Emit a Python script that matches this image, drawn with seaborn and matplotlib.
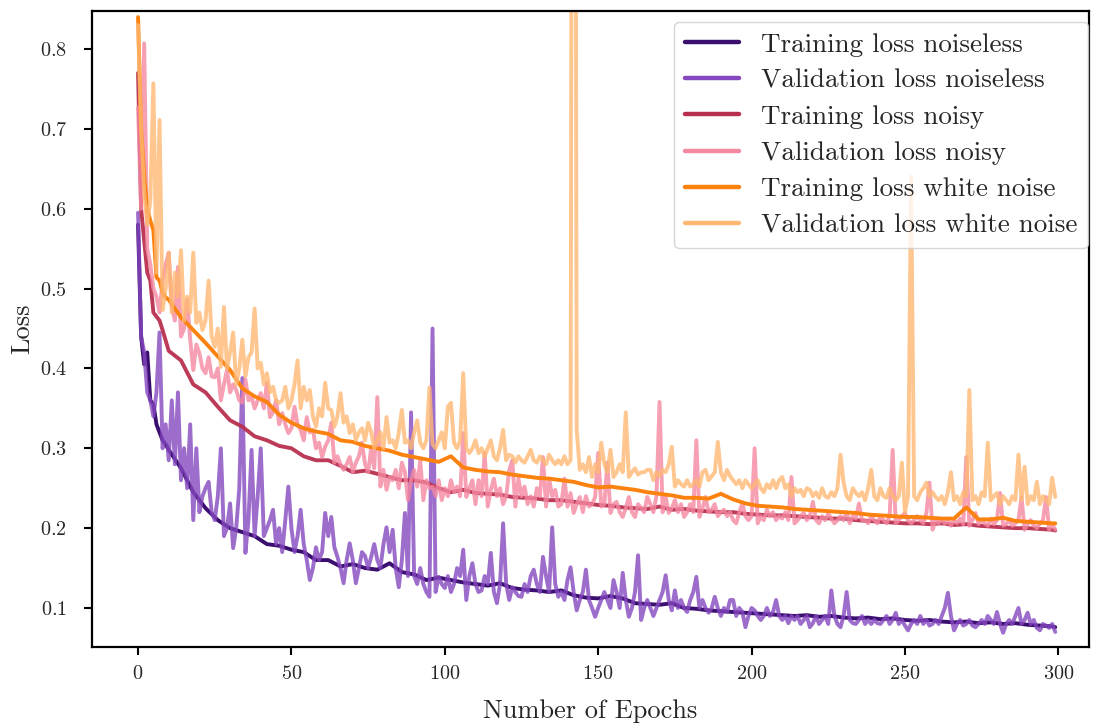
import numpy as np
import pandas as pd
import matplotlib
matplotlib.use("Agg")
import matplotlib.pyplot as plt
import seaborn as sns

# ---------------- data ----------------
TRAIN_EPOCHS = list(range(0, 10)) + list(range(10, 300, 4)) + [299]
VAL_EPOCHS = list(range(0, 300))

train_noiseless = [
    0.58, 0.44, 0.405, 0.42, 0.36, 0.355, 0.33, 0.32, 0.31, 0.305,
    0.298, 0.275, 0.245, 0.225, 0.21, 0.20, 0.195, 0.19, 0.18, 0.178,
    0.173, 0.17, 0.16, 0.16, 0.152, 0.155, 0.15, 0.148, 0.156, 0.145,
    0.142, 0.135, 0.138, 0.135, 0.132, 0.13, 0.128, 0.131, 0.125, 0.123,
    0.122, 0.12, 0.122, 0.116, 0.113, 0.112, 0.115, 0.112, 0.106, 0.105,
    0.104, 0.106, 0.10, 0.099, 0.097, 0.096, 0.095, 0.094, 0.093, 0.092,
    0.091, 0.09, 0.091, 0.089, 0.09, 0.088, 0.087, 0.088, 0.086, 0.087,
    0.085, 0.084, 0.085, 0.083, 0.082, 0.083, 0.081, 0.082, 0.08, 0.081,
    0.079, 0.078, 0.077,
    0.076,
]

train_noisy = [
    0.77, 0.60, 0.56, 0.52, 0.51, 0.47, 0.465, 0.46, 0.448, 0.435,
    0.422, 0.41, 0.38, 0.37, 0.352, 0.335, 0.327, 0.315, 0.31, 0.303,
    0.30, 0.29, 0.285, 0.285, 0.278, 0.27, 0.272, 0.268, 0.264, 0.26,
    0.26, 0.257, 0.25, 0.245, 0.248, 0.244, 0.243, 0.242, 0.239, 0.238,
    0.237, 0.235, 0.235, 0.233, 0.231, 0.229, 0.228, 0.226, 0.225, 0.224,
    0.227, 0.223, 0.224, 0.222, 0.221, 0.22, 0.22, 0.218, 0.217, 0.216,
    0.216, 0.215, 0.214, 0.213, 0.212, 0.212, 0.21, 0.209, 0.208, 0.207,
    0.206, 0.206, 0.205, 0.206, 0.204, 0.205, 0.203, 0.202, 0.201, 0.20,
    0.20, 0.199, 0.198,
    0.197,
]

train_white = [
    0.84, 0.70, 0.64, 0.60, 0.585, 0.573, 0.514, 0.51, 0.495, 0.489,
    0.486, 0.464, 0.448, 0.432, 0.415, 0.398, 0.375, 0.365, 0.358, 0.342,
    0.332, 0.325, 0.321, 0.318, 0.31, 0.308, 0.303, 0.30, 0.297, 0.292,
    0.289, 0.286, 0.283, 0.29, 0.276, 0.273, 0.271, 0.27, 0.267, 0.265,
    0.263, 0.262, 0.26, 0.258, 0.254, 0.251, 0.252, 0.25, 0.248, 0.245,
    0.243, 0.241, 0.238, 0.238, 0.237, 0.243, 0.236, 0.231, 0.228, 0.227,
    0.226, 0.224, 0.223, 0.222, 0.221, 0.22, 0.219, 0.217, 0.216, 0.215,
    0.214, 0.214, 0.213, 0.212, 0.212, 0.226, 0.211, 0.211, 0.213, 0.209,
    0.208, 0.207, 0.206,
    0.206,
]

val_noiseless = [
    0.595, 0.44, 0.42, 0.37, 0.36, 0.34, 0.37, 0.445, 0.30, 0.33,
    0.285, 0.36, 0.28, 0.37, 0.26, 0.30, 0.25, 0.33, 0.21, 0.30,
    0.22, 0.24, 0.25, 0.258, 0.22, 0.21, 0.24, 0.30, 0.19, 0.20,
    0.231, 0.175, 0.20, 0.25, 0.388, 0.169, 0.21, 0.298, 0.19, 0.24,
    0.30, 0.19, 0.20, 0.21, 0.223, 0.18, 0.20, 0.17, 0.21, 0.252,
    0.20, 0.17, 0.19, 0.223, 0.18, 0.16, 0.135, 0.15, 0.176, 0.16,
    0.17, 0.219, 0.19, 0.214, 0.176, 0.164, 0.15, 0.131, 0.16, 0.181,
    0.16, 0.131, 0.15, 0.17, 0.165, 0.15, 0.164, 0.18, 0.16, 0.15,
    0.18, 0.201, 0.17, 0.198, 0.15, 0.126, 0.16, 0.219, 0.14, 0.345,
    0.14, 0.13, 0.15, 0.13, 0.12, 0.114, 0.45, 0.12, 0.139, 0.13,
    0.125, 0.14, 0.12, 0.13, 0.15, 0.14, 0.173, 0.11, 0.14, 0.156,
    0.13, 0.12, 0.122, 0.14, 0.13, 0.169, 0.12, 0.106, 0.13, 0.206,
    0.13, 0.11, 0.126, 0.12, 0.115, 0.114, 0.13, 0.12, 0.14, 0.148,
    0.13, 0.12, 0.164, 0.14, 0.12, 0.201, 0.13, 0.114, 0.12, 0.11,
    0.135, 0.151, 0.12, 0.097, 0.11, 0.12, 0.148, 0.11, 0.10, 0.089,
    0.10, 0.11, 0.12, 0.11, 0.10, 0.135, 0.12, 0.10, 0.144, 0.11,
    0.089, 0.10, 0.12, 0.166, 0.085, 0.10, 0.11, 0.10, 0.09, 0.10,
    0.11, 0.12, 0.141, 0.11, 0.097, 0.122, 0.10, 0.11, 0.10, 0.095,
    0.11, 0.12, 0.139, 0.10, 0.11, 0.10, 0.094, 0.10, 0.114, 0.10,
    0.09, 0.10, 0.095, 0.11, 0.110, 0.09, 0.10, 0.095, 0.076, 0.09,
    0.10, 0.097, 0.09, 0.085, 0.09, 0.10, 0.09, 0.095, 0.11, 0.09,
    0.085, 0.09, 0.081, 0.09, 0.085, 0.09, 0.08, 0.085, 0.09, 0.076,
    0.081, 0.09, 0.08, 0.085, 0.09, 0.08, 0.122, 0.09, 0.08, 0.076,
    0.09, 0.12, 0.085, 0.081, 0.08, 0.085, 0.09, 0.08, 0.085, 0.08,
    0.085, 0.081, 0.08, 0.085, 0.09, 0.08, 0.085, 0.094, 0.08, 0.085,
    0.078, 0.072, 0.08, 0.085, 0.08, 0.09, 0.08, 0.085, 0.078, 0.08,
    0.085, 0.08, 0.09, 0.10, 0.119, 0.09, 0.072, 0.08, 0.085, 0.078,
    0.08, 0.085, 0.078, 0.076, 0.08, 0.085, 0.08, 0.09, 0.085, 0.08,
    0.095, 0.08, 0.069, 0.08, 0.085, 0.08, 0.09, 0.10, 0.08, 0.085,
    0.094, 0.08, 0.085, 0.075, 0.072, 0.08, 0.078, 0.075, 0.08, 0.07,
]

val_noisy = [
    0.727, 0.60, 0.807, 0.55, 0.53, 0.50, 0.49, 0.47, 0.51, 0.53,
    0.545, 0.477, 0.46, 0.527, 0.44, 0.45, 0.486, 0.436, 0.398, 0.43,
    0.419, 0.40, 0.394, 0.414, 0.39, 0.389, 0.40, 0.36, 0.38, 0.398,
    0.37, 0.38, 0.373, 0.36, 0.357, 0.386, 0.36, 0.364, 0.35, 0.36,
    0.369, 0.35, 0.382, 0.339, 0.345, 0.36, 0.33, 0.344, 0.33, 0.319,
    0.325, 0.352, 0.33, 0.323, 0.31, 0.339, 0.32, 0.323, 0.30, 0.307,
    0.289, 0.302, 0.31, 0.332, 0.282, 0.29, 0.28, 0.273, 0.28, 0.289,
    0.27, 0.282, 0.29, 0.307, 0.28, 0.27, 0.30, 0.275, 0.364, 0.252,
    0.273, 0.248, 0.264, 0.26, 0.273, 0.25, 0.282, 0.27, 0.235, 0.26,
    0.273, 0.252, 0.285, 0.235, 0.26, 0.25, 0.252, 0.24, 0.26, 0.235,
    0.25, 0.24, 0.26, 0.245, 0.252, 0.24, 0.319, 0.239, 0.25, 0.26,
    0.23, 0.26, 0.24, 0.294, 0.227, 0.248, 0.262, 0.24, 0.25, 0.23,
    0.24, 0.273, 0.285, 0.227, 0.262, 0.24, 0.252, 0.23, 0.24, 0.227,
    0.25, 0.24, 0.289, 0.227, 0.262, 0.24, 0.248, 0.227, 0.23, 0.262,
    0.227, 0.244, 0.219, 0.23, 0.239, 0.22, 0.24, 0.227, 0.23, 0.239,
    0.294, 0.227, 0.23, 0.282, 0.219, 0.23, 0.233, 0.22, 0.214, 0.225,
    0.239, 0.22, 0.214, 0.23, 0.225, 0.22, 0.239, 0.23, 0.22, 0.24,
    0.358, 0.22, 0.239, 0.219, 0.225, 0.235, 0.22, 0.23, 0.214, 0.22,
    0.23, 0.22, 0.31, 0.214, 0.225, 0.239, 0.22, 0.223, 0.23, 0.215,
    0.22, 0.223, 0.215, 0.22, 0.21, 0.206, 0.22, 0.231, 0.215, 0.21,
    0.215, 0.30, 0.206, 0.215, 0.21, 0.223, 0.215, 0.22, 0.21, 0.215,
    0.212, 0.22, 0.21, 0.264, 0.206, 0.21, 0.215, 0.219, 0.21, 0.215,
    0.233, 0.21, 0.206, 0.215, 0.21, 0.218, 0.212, 0.206, 0.21, 0.215,
    0.21, 0.22, 0.206, 0.215, 0.212, 0.231, 0.21, 0.21, 0.206, 0.215,
    0.21, 0.206, 0.215, 0.21, 0.206, 0.215, 0.298, 0.206, 0.21, 0.215,
    0.219, 0.21, 0.206, 0.21, 0.215, 0.21, 0.206, 0.219, 0.257, 0.198,
    0.21, 0.206, 0.212, 0.205, 0.21, 0.203, 0.21, 0.206, 0.212, 0.205,
    0.289, 0.203, 0.21, 0.219, 0.205, 0.21, 0.206, 0.203, 0.212, 0.205,
    0.21, 0.244, 0.203, 0.205, 0.21, 0.203, 0.206, 0.21, 0.239, 0.198,
    0.205, 0.21, 0.203, 0.20, 0.206, 0.21, 0.239, 0.198, 0.205, 0.198,
]

val_white = [
    0.83, 0.70, 0.62, 0.58, 0.61, 0.757, 0.52, 0.711, 0.473, 0.50,
    0.545, 0.47, 0.52, 0.49, 0.548, 0.46, 0.49, 0.47, 0.545, 0.457,
    0.47, 0.448, 0.46, 0.51, 0.44, 0.427, 0.45, 0.402, 0.477, 0.40,
    0.42, 0.445, 0.38, 0.40, 0.436, 0.39, 0.414, 0.42, 0.475, 0.40,
    0.407, 0.38, 0.394, 0.37, 0.377, 0.36, 0.357, 0.36, 0.377, 0.35,
    0.36, 0.38, 0.41, 0.35, 0.377, 0.36, 0.373, 0.34, 0.327, 0.35,
    0.34, 0.382, 0.35, 0.348, 0.327, 0.34, 0.369, 0.332, 0.34, 0.319,
    0.33, 0.31, 0.32, 0.325, 0.31, 0.332, 0.32, 0.30, 0.31, 0.32,
    0.30, 0.339, 0.307, 0.31, 0.30, 0.32, 0.348, 0.307, 0.31, 0.30,
    0.32, 0.335, 0.307, 0.30, 0.31, 0.376, 0.305, 0.30, 0.31, 0.32,
    0.30, 0.352, 0.357, 0.307, 0.30, 0.31, 0.394, 0.30, 0.294, 0.30,
    0.31, 0.294, 0.30, 0.29, 0.30, 0.31, 0.29, 0.285, 0.30, 0.323,
    0.285, 0.292, 0.29, 0.282, 0.29, 0.285, 0.282, 0.29, 0.298, 0.285,
    0.282, 0.29, 0.285, 0.28, 0.292, 0.285, 0.28, 0.285, 0.28, 0.29,
    0.28, 0.285, 2.5, 0.323, 0.273, 0.28, 0.27, 0.289, 0.264, 0.28,
    0.27, 0.307, 0.28, 0.27, 0.298, 0.264, 0.27, 0.28, 0.27, 0.345,
    0.264, 0.27, 0.275, 0.267, 0.27, 0.27, 0.273, 0.273, 0.26, 0.27,
    0.265, 0.273, 0.27, 0.28, 0.302, 0.252, 0.26, 0.255, 0.252, 0.26,
    0.252, 0.255, 0.26, 0.252, 0.27, 0.273, 0.26, 0.265, 0.27, 0.308,
    0.27, 0.26, 0.273, 0.265, 0.26, 0.255, 0.26, 0.25, 0.26, 0.255,
    0.25, 0.255, 0.26, 0.25, 0.245, 0.255, 0.25, 0.26, 0.25, 0.26,
    0.264, 0.25, 0.255, 0.24, 0.25, 0.245, 0.248, 0.24, 0.25, 0.248,
    0.24, 0.245, 0.238, 0.25, 0.24, 0.238, 0.245, 0.24, 0.25, 0.292,
    0.257, 0.24, 0.235, 0.25, 0.244, 0.24, 0.245, 0.235, 0.25, 0.273,
    0.24, 0.235, 0.25, 0.24, 0.238, 0.25, 0.24, 0.235, 0.24, 0.282,
    0.22, 0.24, 0.64, 0.24, 0.235, 0.245, 0.25, 0.257, 0.24, 0.245,
    0.239, 0.235, 0.24, 0.23, 0.245, 0.27, 0.235, 0.24, 0.23, 0.245,
    0.24, 0.373, 0.235, 0.24, 0.23, 0.245, 0.24, 0.307, 0.235, 0.24,
    0.244, 0.23, 0.24, 0.235, 0.23, 0.24, 0.235, 0.292, 0.235, 0.277,
    0.23, 0.24, 0.235, 0.258, 0.23, 0.24, 0.235, 0.23, 0.263, 0.239,
]

SERIES = [
    ("Training loss noiseless", TRAIN_EPOCHS, train_noiseless),
    ("Validation loss noiseless", VAL_EPOCHS, val_noiseless),
    ("Training loss noisy", TRAIN_EPOCHS, train_noisy),
    ("Validation loss noisy", VAL_EPOCHS, val_noisy),
    ("Training loss white noise", TRAIN_EPOCHS, train_white),
    ("Validation loss white noise", VAL_EPOCHS, val_white),
]
COLORS = ["#3b0f6f", "#8548c0", "#b8304f", "#f588a1", "#fb820f", "#ffb873"]
ALPHAS = [1.0, 0.8, 0.95, 0.8, 1.0, 0.8]

X_TICKS = [0, 50, 100, 150, 200, 250, 300]
Y_TICKS = [0.1, 0.2, 0.3, 0.4, 0.5, 0.6, 0.7, 0.8]

# ---------------- style ----------------
sns.set_theme(style="ticks")
plt.rcParams["font.family"] = ["cmr10", "DejaVu Serif"]
plt.rcParams["mathtext.fontset"] = "cm"
plt.rcParams["axes.formatter.use_mathtext"] = True
plt.rcParams["axes.unicode_minus"] = False

frames = []
for name, ep, vals in SERIES:
    frames.append(pd.DataFrame({"epoch": ep, "loss": vals, "series": name}))
df = pd.concat(frames, ignore_index=True)

fig = plt.figure(figsize=(10.97, 7.24), dpi=100)
ax = fig.add_axes([0.0839, 0.1064, 0.9088, 0.8784])

for (name, _, _), col, al in zip(SERIES, COLORS, ALPHAS):
    sub = df[df["series"] == name]
    sns.lineplot(data=sub, x="epoch", y="loss", color=col, alpha=al,
                 linewidth=2.8, label=name, errorbar=None, ax=ax)

ax.set_xlim(-15, 310)
ax.set_ylim(0.0512, 0.8476)
ax.set_xticks(X_TICKS)
ax.set_yticks(Y_TICKS)
ax.set_xlabel("Number of Epochs", fontsize=19, labelpad=12)
ax.set_ylabel("Loss", fontsize=19, labelpad=4)
ax.tick_params(axis="both", labelsize=14.5, length=6, width=1.5, color="black")
ax.tick_params(axis="y", pad=12)
ax.tick_params(axis="x", pad=7)
for sp in ax.spines.values():
    sp.set_linewidth(1.6)
    sp.set_color("black")

leg = ax.legend(loc="upper right", bbox_to_anchor=(0.999, 0.983),
                borderaxespad=0.0, fontsize=19.5, frameon=True, fancybox=True,
                framealpha=0.8, edgecolor="#cccccc", borderpad=0.4,
                labelspacing=0.45, handlelength=2.0)
for line in leg.get_lines():
    line.set_linewidth(3.2)
    line.set_alpha(1)

fig.savefig("out.png", dpi=100)
